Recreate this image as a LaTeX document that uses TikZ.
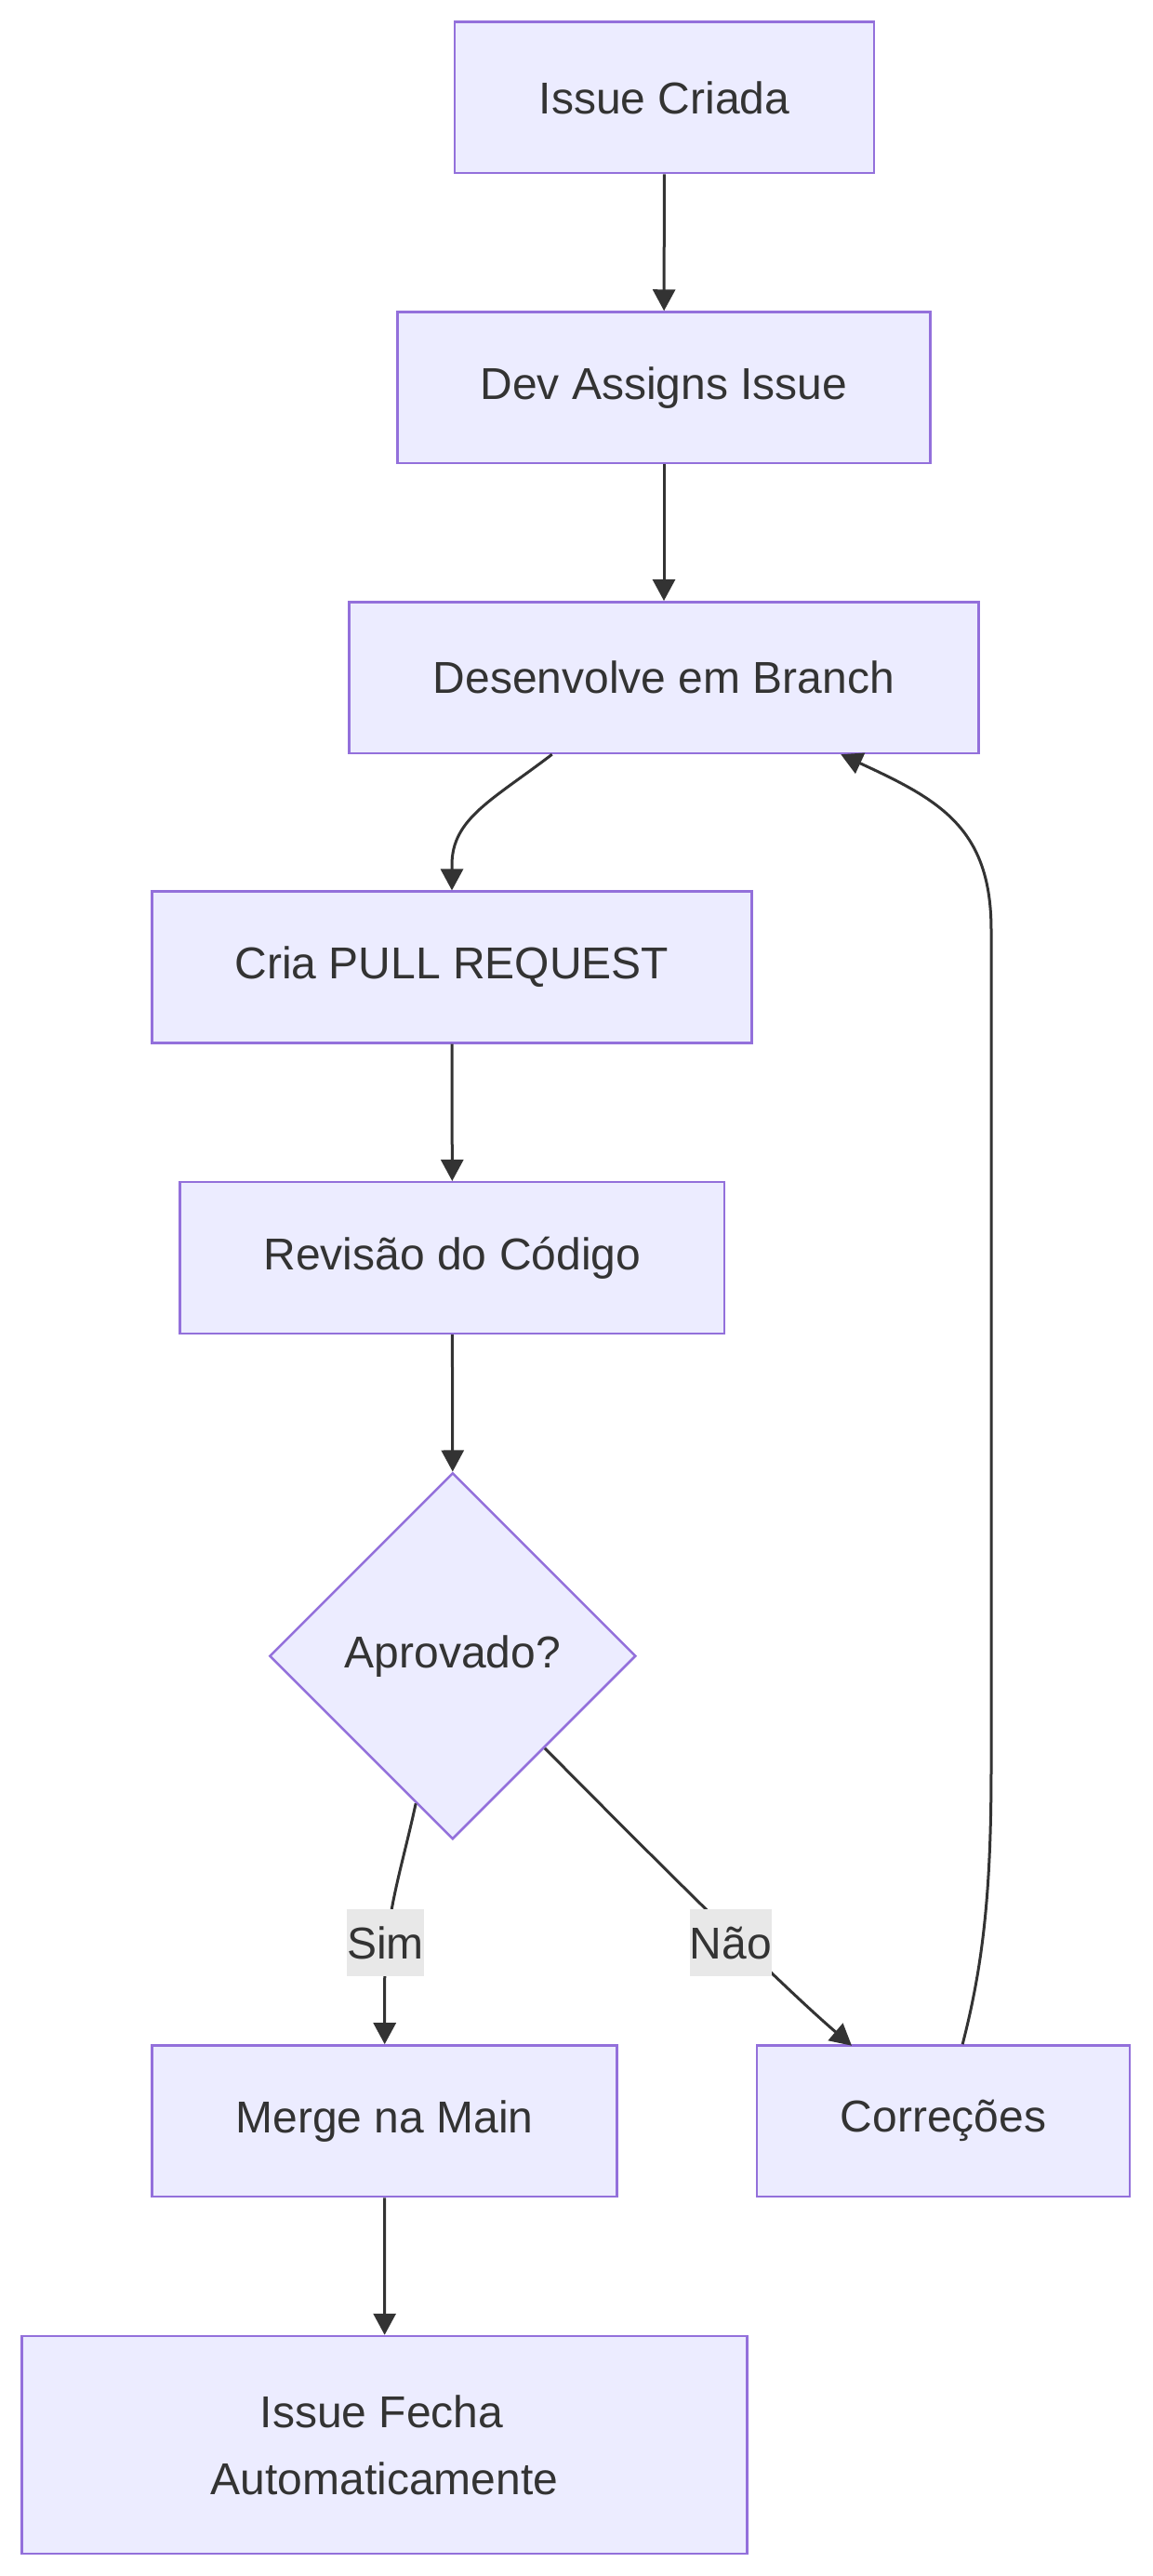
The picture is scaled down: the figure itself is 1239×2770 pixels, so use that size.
\documentclass[tikz,border=0pt]{standalone}
\usepackage{fontspec}
\setmainfont{Liberation Sans}
\usetikzlibrary{shapes.geometric,arrows.meta,calc}
\definecolor{nodefill}{HTML}{ECECFF}
\definecolor{nodeline}{HTML}{9370DB}
\definecolor{ink}{HTML}{333333}
\definecolor{lblbg}{HTML}{E8E8E8}
\begin{document}
\begin{tikzpicture}[x=0.5pt,y=-0.5pt,
  box/.style={draw=nodeline,fill=nodefill,line width=1.25pt,text=ink,
    font=\fontsize{24}{36}\selectfont,minimum height=81.3pt,inner sep=0pt,align=center},
  dia/.style={diamond,draw=nodeline,fill=nodefill,line width=1.25pt,text=ink,
    font=\fontsize{24}{36}\selectfont,minimum width=197pt,minimum height=197pt,inner sep=0pt,aspect=1},
  edge/.style={draw=ink,line width=1.5pt,-{Triangle[length=11.5pt,width=12pt]}},
  lbl/.style={fill=lblbg,text=ink,font=\fontsize{24}{36}\selectfont,
    minimum width=41.5pt,minimum height=36pt,inner sep=0pt}]
\useasboundingbox (0,0) rectangle (1239,2770);
\fill[white] (0,0) rectangle (1239,2770);

\node[box,minimum width=225.5pt] (A) at (714.5,104.9) {Issue Criada};
\node[box,minimum width=286.5pt] (B) at (714,416.8) {Dev Assigns Issue};
\node[box,minimum width=338.5pt] (C) at (714,728.6) {Desenvolve em Branch};
\node[box,minimum width=322.5pt] (D) at (486,1040) {Cria PULL REQUEST};
\node[box,minimum width=292.8pt] (E) at (486.4,1352.5) {Revisão do Código};
\node[dia] (F) at (486.8,1780.7) {Aprovado?};
\node[box,minimum width=250pt] (G) at (413.7,2280.7) {Merge na Main};
\node[box,minimum width=200.5pt] (H) at (1014.6,2280.7) {Correções};
\node[box,minimum width=390pt,minimum height=117pt] (I) at (413.6,2629) {Issue Fecha\hspace*{3pt}\\Automaticamente};

\draw[edge] (A) -- (B);
\draw[edge] (B) -- (C);
\coordinate (c1) at ($(C.south west)!0.323!(C.south east)$);
\draw[edge] (c1) .. controls (530,860) and (486,880) .. (486,930) -- (D.north);
\draw[edge] (D) -- (E);
\draw[edge] (E.south) -- (F.north);
\coordinate (f1) at ($(F.south)!0.2!(F.west)$);
\coordinate (f2) at ($(F.east)!0.5!(F.south)$);
\draw[edge] (f1) .. controls (432,2010) and (413.7,2060) .. (413.7,2133) -- (G.north);
\coordinate (h2) at (916,2199.7);
\draw[edge] (f2) .. controls (690,1985) and (840,2135) .. (h2);
\coordinate (h1) at ($(H.north west)!0.551!(H.north east)$);
\coordinate (c2) at ($(C.south west)!0.78!(C.south east)$);
\draw[edge] (h1) .. controls (1058,2110) and (1066,2030) .. (1066,1900) -- (1066,1000)
  .. controls (1066,890) and (1010,860) .. (c2);
\draw[edge] (G) -- (I);

\node[lbl] (ls) at (414.5,2089) {Sim};
\node[lbl] (ln) at (786,2089) {Não};
\end{tikzpicture}
\end{document}
